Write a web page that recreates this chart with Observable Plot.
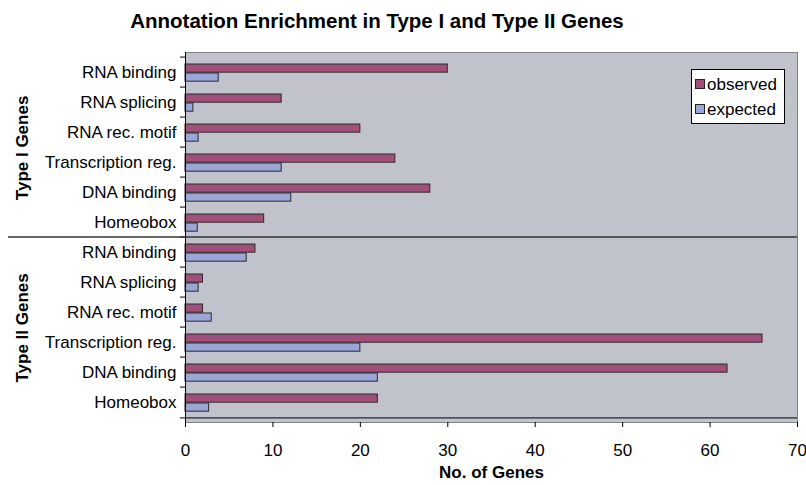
<!DOCTYPE html>
<html><head><meta charset="utf-8">
<script src="https://cdn.jsdelivr.net/npm/d3@7"></script>
<script src="https://cdn.jsdelivr.net/npm/@observablehq/plot@0.6"></script>
<style>
body{margin:0;background:#fff;font-family:"Liberation Sans",Arial,sans-serif;color:#000;}
#wrap{position:relative;width:806px;height:485px;overflow:hidden;}
#title{height:40px;box-sizing:border-box;padding-top:9px;width:754px;text-align:center;font-weight:bold;font-size:20.5px;line-height:24px;}
#legend{position:absolute;left:691px;top:69px;width:94px;height:55px;box-sizing:border-box;border:1px solid #000;background:#fff;font-size:17px;}
#legend .row{position:absolute;left:3px;height:20px;line-height:20px;white-space:nowrap;}
#legend .sw{display:inline-block;width:8px;height:8px;border:1px solid #222;margin-right:2px;vertical-align:1px;}
</style></head><body>
<div id="wrap">
<div id="title">Annotation Enrichment in Type I and Type II Genes</div>
<div id="chart"></div>
<div id="legend"></div>
</div>
<script>
const groups = ["Type I Genes", "Type II Genes"];
const categories = ["RNA binding", "RNA splicing", "RNA rec. motif", "Transcription reg.", "DNA binding", "Homeobox"];
const observedI = [30, 11, 20, 24, 28, 9];
const expectedI = [3.8, 0.9, 1.5, 11, 12.1, 1.4];
const observedII = [8, 2, 2, 66, 62, 22];
const expectedII = [7, 1.5, 3, 20, 22, 2.7];
const seriesNames = ["observed", "expected"];
const seriesColors = ["#a0507a", "#9aa5d8"];
const xTicks = [0, 10, 20, 30, 40, 50, 60, 70];

const keys = [];
const rows = [];
groups.forEach((g, gi) => {
  const obs = gi === 0 ? observedI : observedII;
  const exp = gi === 0 ? expectedI : expectedII;
  categories.forEach((c, ci) => {
    const key = g + "|" + c;
    keys.push(key);
    rows.push({key, group: g, category: c, observed: obs[ci], expected: exp[ci]});
  });
});
const groupLabels = groups.map(g => ({key: g + "|" + categories[2], text: g}));
const dividerKey = groups[1] + "|" + categories[0];
const lastKey = keys[keys.length - 1];

const W = 806, H = 445, mt = 12, mb = 63, ml = 185, mr = 9;
const bw = (H - mt - mb) / keys.length;

const chart = Plot.plot({
  width: W, height: H,
  marginTop: mt, marginBottom: mb, marginLeft: ml, marginRight: mr,
  style: {fontFamily: "Liberation Sans, Arial, sans-serif", fontSize: "17px", color: "#000", background: "transparent", overflow: "visible"},
  x: {domain: [0, 70]},
  y: {domain: keys, padding: 0},
  marks: [
    Plot.frame({fill: "#c0c3cb", stroke: "#808080"}),
    Plot.barX(rows, {x: "observed", y: "key", fill: seriesColors[0], stroke: "#2a2a2a", strokeWidth: 1, insetTop: 7, insetBottom: bw - 16}),
    Plot.barX(rows, {x: "expected", y: "key", fill: seriesColors[1], stroke: "#2a2a2a", strokeWidth: 1, insetTop: 16, insetBottom: bw - 25}),
    Plot.ruleX([0], {stroke: "#000", strokeWidth: 1}),
    Plot.ruleY([lastKey], {dy: bw / 2, stroke: "#000", strokeWidth: 1}),
    Plot.ruleY(keys, {x1: 0, x2: 0, insetLeft: -5, dy: -bw / 2, stroke: "#000"}),
    Plot.ruleY([lastKey], {x1: 0, x2: 0, insetLeft: -5, dy: bw / 2, stroke: "#000"}),
    Plot.ruleY([dividerKey], {dy: -bw / 2, insetLeft: -177, stroke: "#333", strokeWidth: 1.5}),
    Plot.axisX({ticks: xTicks, tickSize: 5, tickPadding: 16, fontSize: 17, label: null}),
    Plot.axisY({tickSize: 0, tickPadding: 9, tickFormat: k => k.split("|")[1], fontSize: 17, label: null}),
    Plot.text(groupLabels, {y: "key", text: "text", frameAnchor: "left", dx: -163, dy: bw / 2, rotate: -90, textAnchor: "middle", fontWeight: "bold", fontSize: 17}),
    Plot.text(["No. of Genes"], {frameAnchor: "bottom", dy: 55, fontWeight: "bold", fontSize: 17})
  ]
});
document.getElementById("chart").appendChild(chart);

const legend = document.getElementById("legend");
seriesNames.forEach((s, i) => {
  const r = document.createElement("div");
  r.className = "row";
  r.style.top = (5 + i * 25) + "px";
  r.innerHTML = `<span class="sw" style="background:${seriesColors[i]}"></span>${s}`;
  legend.appendChild(r);
});
</script>
</body></html>
